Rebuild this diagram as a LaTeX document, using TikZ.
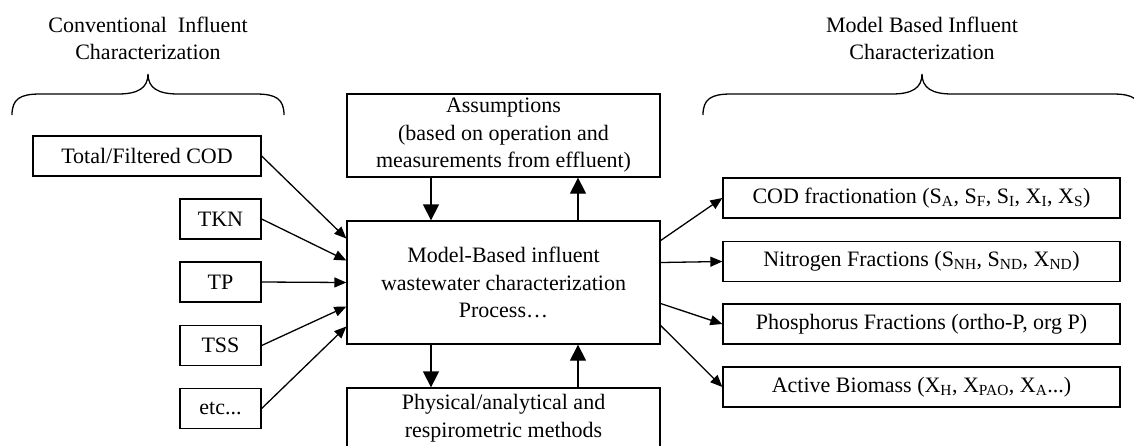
\documentclass[tikz,border=0pt]{standalone}
\usepackage{fontspec}
\setmainfont{Liberation Serif}
\usetikzlibrary{arrows.meta}
\begin{document}
\begin{tikzpicture}[x=1pt,y=-1pt,
  every node/.style={font=\fontsize{22}{27.5}\selectfont, align=center},
  box/.style={draw, line width=1.3pt, inner sep=0pt, minimum height=40pt},
  arr/.style={line width=1.3pt, -{Triangle[length=12pt,width=10pt]}},
  varr/.style={line width=1.3pt, -{Triangle[length=16pt,width=16pt]}},
  brace/.style={line width=1.3pt}]
\useasboundingbox (0,0) rectangle (1134,445);
\clip (0,0) rectangle (1134,445);

% group headings
\node (convtitle) at (148,38.5) {Conventional\ \ Influent\\Characterization};
\node (modeltitle) at (922,38.5) {Model Based Influent\\Characterization};

% curly braces under the headings
\draw[brace] (12,115) .. controls (12,99) and (20,94) .. (40,94) -- (118,94)
  .. controls (138,94) and (148,88) .. (148,74)
  .. controls (148,88) and (158,94) .. (178,94) -- (256,94)
  .. controls (276,94) and (284,99) .. (284,115);
\draw[brace] (703,115) .. controls (703,99) and (711,94) .. (731,94) -- (892,94)
  .. controls (912,94) and (922,88) .. (922,74)
  .. controls (922,88) and (932,94) .. (952,94) -- (1113,94)
  .. controls (1133,94) and (1141,99) .. (1141,115);

% conventional measurements
\node[box, minimum width=228pt] (tfc) at (147,156) {Total/Filtered COD};
\node[box, minimum width=81pt] (tkn) at (220.5,219) {TKN};
\node[box, minimum width=81pt] (tp) at (220.5,282) {TP};
\node[box, minimum width=81pt] (tss) at (220.5,345.5) {TSS};
\node[box, minimum width=81pt] (etc) at (220.5,408.5) {etc...};

% central process and its inputs
\node[box, minimum width=313pt, minimum height=123pt] (main) at (503.5,282.5)
  {Model-Based influent\\wastewater characterization\\Process…};
\node[box, minimum width=313pt, minimum height=83pt] (assump) at (503.5,135.5)
  {Assumptions\\(based on operation and\\measurements from effluent)};
\node[box, minimum width=313pt, minimum height=83pt] (phys) at (503.5,429.5)
  {Physical/analytical and\\respirometric methods\\ \mbox{}};

% model based fractions
\node[box, minimum width=397pt] (codf) at (921.5,198)
  {COD fractionation (S\textsubscript{A}, S\textsubscript{F}, S\textsubscript{I}, X\textsubscript{I}, X\textsubscript{S})};
\node[box, minimum width=397pt] (nf) at (921.5,261.5)
  {Nitrogen Fractions (S\textsubscript{NH}, S\textsubscript{ND}, X\textsubscript{ND})};
\node[box, minimum width=397pt] (pf) at (921.5,324)
  {Phosphorus Fractions (ortho-P, org P)};
\node[box, minimum width=397pt] (ab) at (921.5,387)
  {Active Biomass (X\textsubscript{H}, X\textsubscript{PAO}, X\textsubscript{A}...)};

% inputs into the process
\draw[arr] (tfc.east) -- ([yshift=44pt]main.west);
\draw[arr] (tkn.east) -- ([yshift=22pt]main.west);
\draw[arr] (tp.east) -- (main.west);
\draw[arr] (tss.east) -- ([yshift=-24pt]main.west);
\draw[arr] (etc.east) -- ([yshift=-44pt]main.west);

% exchange with assumptions and methods
\draw[varr] ([xshift=-72.5pt]assump.south) -- ([xshift=-72.5pt]main.north);
\draw[varr] ([xshift=74.5pt]main.north) -- ([xshift=74.5pt]assump.south);
\draw[varr] ([xshift=-72.5pt]main.south) -- ([xshift=-72.5pt]phys.north);
\draw[varr] ([xshift=74.5pt]phys.north) -- ([xshift=74.5pt]main.south);

% outputs of the process
\draw[arr] ([yshift=42pt]main.east) -- (codf.west);
\draw[arr] ([yshift=20pt]main.east) -- (nf.west);
\draw[arr] ([yshift=-21pt]main.east) -- (pf.west);
\draw[arr] ([yshift=-43pt]main.east) -- (ab.west);
\end{tikzpicture}
\end{document}
